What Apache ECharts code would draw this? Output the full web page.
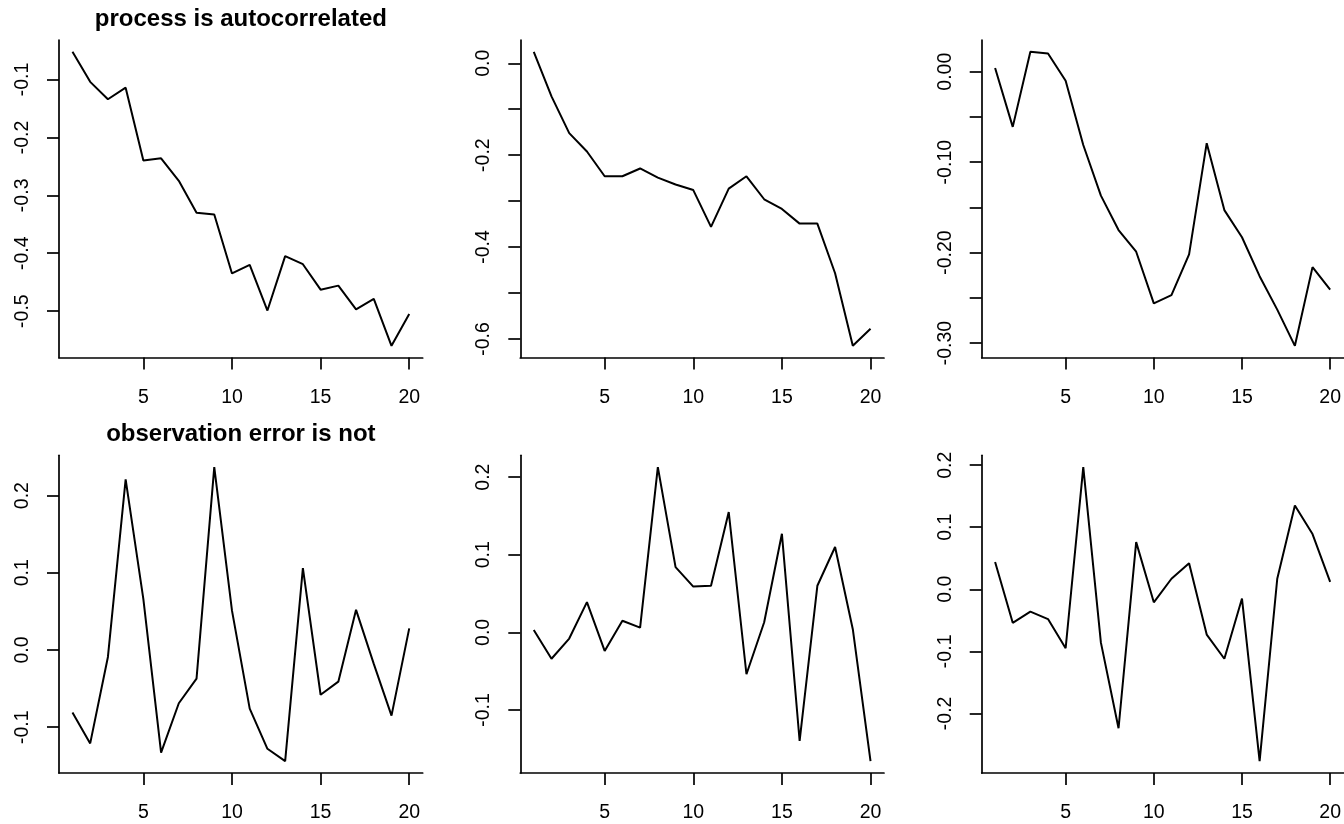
<!DOCTYPE html>
<html>
<head>
<meta charset="utf-8">
<script src="https://cdn.jsdelivr.net/npm/echarts@6/dist/echarts.min.js"></script>
<style>
  html, body { margin: 0; padding: 0; background: #fff; }
  #chart { width: 1344px; height: 824px; }
</style>
</head>
<body>
<div id="chart"></div>
<script>
// time steps shared by every panel
const steps = [1, 2, 3, 4, 5, 6, 7, 8, 9, 10, 11, 12, 13, 14, 15, 16, 17, 18, 19, 20];

// top row: autocorrelated process
const procAuto1 = [-0.052, -0.104, -0.134, -0.114, -0.240, -0.236, -0.275, -0.330, -0.333, -0.435,
                   -0.420, -0.499, -0.405, -0.419, -0.463, -0.456, -0.497, -0.479, -0.560, -0.505];
const procAuto2 = [0.025, -0.072, -0.152, -0.192, -0.246, -0.246, -0.229, -0.249, -0.264, -0.276,
                   -0.356, -0.273, -0.246, -0.296, -0.317, -0.349, -0.349, -0.457, -0.615, -0.578];
const procAuto3 = [0.004, -0.061, 0.022, 0.020, -0.010, -0.081, -0.137, -0.175, -0.199, -0.256,
                   -0.247, -0.202, -0.079, -0.153, -0.183, -0.226, -0.263, -0.303, -0.216, -0.241];

// bottom row: independent observation error
const obsErr1 = [-0.081, -0.121, -0.009, 0.221, 0.066, -0.133, -0.069, -0.037, 0.237, 0.051,
                 -0.076, -0.128, -0.144, 0.106, -0.058, -0.041, 0.052, -0.018, -0.085, 0.028];
const obsErr2 = [0.003, -0.034, -0.008, 0.039, -0.024, 0.015, 0.006, 0.213, 0.084, 0.059,
                 0.060, 0.155, -0.054, 0.013, 0.127, -0.140, 0.060, 0.110, 0.004, -0.166];
const obsErr3 = [0.044, -0.054, -0.036, -0.048, -0.095, 0.197, -0.086, -0.224, 0.076, -0.021,
                 0.017, 0.042, -0.073, -0.112, -0.015, -0.277, 0.017, 0.135, 0.089, 0.012];

// tick positions and labelled ticks
const xTicks = [5, 10, 15, 20];
const yTicks1 = [-0.5, -0.4, -0.3, -0.2, -0.1];
const yLabels1 = [-0.5, -0.4, -0.3, -0.2, -0.1];
const yTicks2 = [-0.6, -0.5, -0.4, -0.3, -0.2, -0.1, 0.0];
const yLabels2 = [-0.6, -0.4, -0.2, 0.0];
const yTicks3 = [-0.30, -0.25, -0.20, -0.15, -0.10, -0.05, 0.00];
const yLabels3 = [-0.30, -0.20, -0.10, 0.00];
const yTicks4 = [-0.1, 0.0, 0.1, 0.2];
const yTicks5 = [-0.1, 0.0, 0.1, 0.2];
const yTicks6 = [-0.2, -0.1, 0.0, 0.1, 0.2];

const titleTop = 'process is autocorrelated';
const titleBottom = 'observation error is not';

const FONT = '"Liberation Sans", Arial, Helvetica, sans-serif';
const INK = '#000';
const LABEL_SIZE = 19.5;

const panels = [
  { data: procAuto1, ticks: yTicks1, labels: yLabels1, dec: 1, left: 59,    top: 40,    title: titleTop },
  { data: procAuto2, ticks: yTicks2, labels: yLabels2, dec: 1, left: 520.3, top: 40 },
  { data: procAuto3, ticks: yTicks3, labels: yLabels3, dec: 2, left: 981.7, top: 40 },
  { data: obsErr1,   ticks: yTicks4, labels: yTicks4,  dec: 1, left: 59,    top: 455.3, title: titleBottom },
  { data: obsErr2,   ticks: yTicks5, labels: yTicks5,  dec: 1, left: 520.3, top: 455.3 },
  { data: obsErr3,   ticks: yTicks6, labels: yTicks6,  dec: 1, left: 981.7, top: 455.3 }
];
const PW = 363.7, PH = 317.6;

// 4% padding on each side of the data range
function padded(arr) {
  const lo = Math.min.apply(null, arr), hi = Math.max.apply(null, arr);
  const d = (hi - lo) * 0.04;
  return [lo - d, hi + d];
}
const xr = padded(steps);

const grid = [], xAxis = [], yAxis = [], series = [], graphic = [];
panels.forEach(function (p, i) {
  grid.push({ left: p.left, top: p.top, width: PW, height: PH, containLabel: false });
  xAxis.push({
    type: 'value', gridIndex: i, min: xr[0], max: xr[1],
    splitLine: { show: false },
    axisLine: { show: true, onZero: false, lineStyle: { color: INK, width: 1.7 } },
    axisTick: { show: true, inside: false, length: 12, customValues: xTicks, lineStyle: { color: INK, width: 1.7 } },
    axisLabel: { customValues: xTicks, margin: 30, color: INK, fontFamily: FONT, fontSize: LABEL_SIZE }
  });
  const yr = padded(p.data);
  yAxis.push({
    type: 'value', gridIndex: i, min: yr[0], max: yr[1],
    splitLine: { show: false },
    axisLine: { show: true, onZero: false, lineStyle: { color: INK, width: 1.7 } },
    axisTick: { show: true, inside: false, length: 12, customValues: p.ticks, lineStyle: { color: INK, width: 1.7 } },
    axisLabel: {
      customValues: p.labels, rotate: 90, margin: 26.5, color: INK, fontFamily: FONT, fontSize: LABEL_SIZE,
      formatter: function (v) { return (Math.abs(v) < 1e-9 ? 0 : v).toFixed(p.dec); }
    }
  });
  series.push({
    type: 'line', xAxisIndex: i, yAxisIndex: i,
    data: steps.map(function (x, k) { return [x, p.data[k]]; }),
    showSymbol: false, symbol: 'none', animation: false,
    lineStyle: { color: INK, width: 2 }
  });
  if (p.title) {
    graphic.push({
      type: 'text',
      x: p.left + PW / 2, y: p.top - 9,
      style: { text: p.title, fill: INK, font: 'bold 24px ' + FONT, textAlign: 'center', textVerticalAlign: 'bottom' }
    });
  }
});

const chart = echarts.init(document.getElementById('chart'), null, { renderer: 'canvas' });
chart.setOption({
  animation: false,
  backgroundColor: '#fff',
  grid: grid, xAxis: xAxis, yAxis: yAxis, series: series, graphic: graphic
});
</script>
</body>
</html>
